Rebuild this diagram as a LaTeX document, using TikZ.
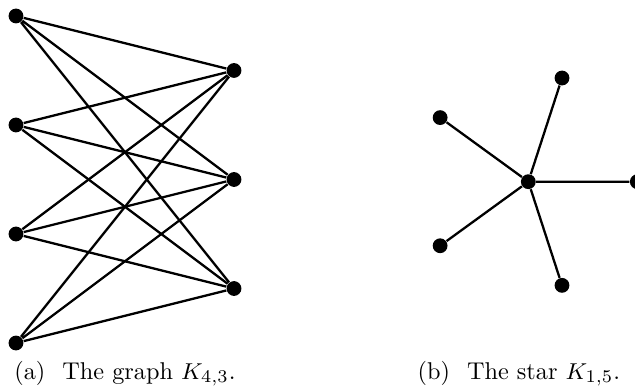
\documentclass[tikz,border=0pt]{standalone}
\usepackage{tikz}
\usetikzlibrary{positioning}

\begin{document}
\begin{tikzpicture}[
    vertex/.style={circle, fill=black, inner sep=0pt, minimum size=5.8pt},
    edge/.style={line width=0.9pt},
    subcap/.style={inner sep=0pt, font=\fontsize{9.5}{12}\selectfont}
]
  \useasboundingbox (-0.22, 0.22) rectangle (8.518, -5.174);

  % (a) the graph K_{4,3}
  \node[vertex] (a1) at (0, 0) {};
  \node[vertex] (a2) at (0, -1.5) {};
  \node[vertex] (a3) at (0, -3) {};
  \node[vertex] (a4) at (0, -4.5) {};
  \node[vertex] (b1) at (3, -0.75) {};
  \node[vertex] (b2) at (3, -2.25) {};
  \node[vertex] (b3) at (3, -3.75) {};

  \draw[edge] (a1) -- (b1) (a1) -- (b2) (a1) -- (b3);
  \draw[edge] (a2) -- (b1) (a2) -- (b2) (a2) -- (b3);
  \draw[edge] (a3) -- (b1) (a3) -- (b2) (a3) -- (b3);
  \draw[edge] (a4) -- (b1) (a4) -- (b2) (a4) -- (b3);

  \node[subcap, anchor=base] (capA) at (1.5, -5.0) {(a)\hspace{0.7em}The graph $K_{4,3}$.};

  % (b) the star K_{1,5}
  \node[vertex] (s0) at (7.05, -2.28) {};
  \node[vertex] (s1) at ([shift={(0:1.5)}]s0) {};
  \node[vertex] (s2) at ([shift={(72:1.5)}]s0) {};
  \node[vertex] (s3) at ([shift={(144:1.5)}]s0) {};
  \node[vertex] (s4) at ([shift={(216:1.5)}]s0) {};
  \node[vertex] (s5) at ([shift={(288:1.5)}]s0) {};

  \draw[edge] (s0) -- (s1) (s0) -- (s2) (s0) -- (s3) (s0) -- (s4) (s0) -- (s5);

  \node[subcap, anchor=base] (capB) at (6.92, -5.0) {(b)\hspace{0.7em}The star $K_{1,5}$.};
\end{tikzpicture}
\end{document}
